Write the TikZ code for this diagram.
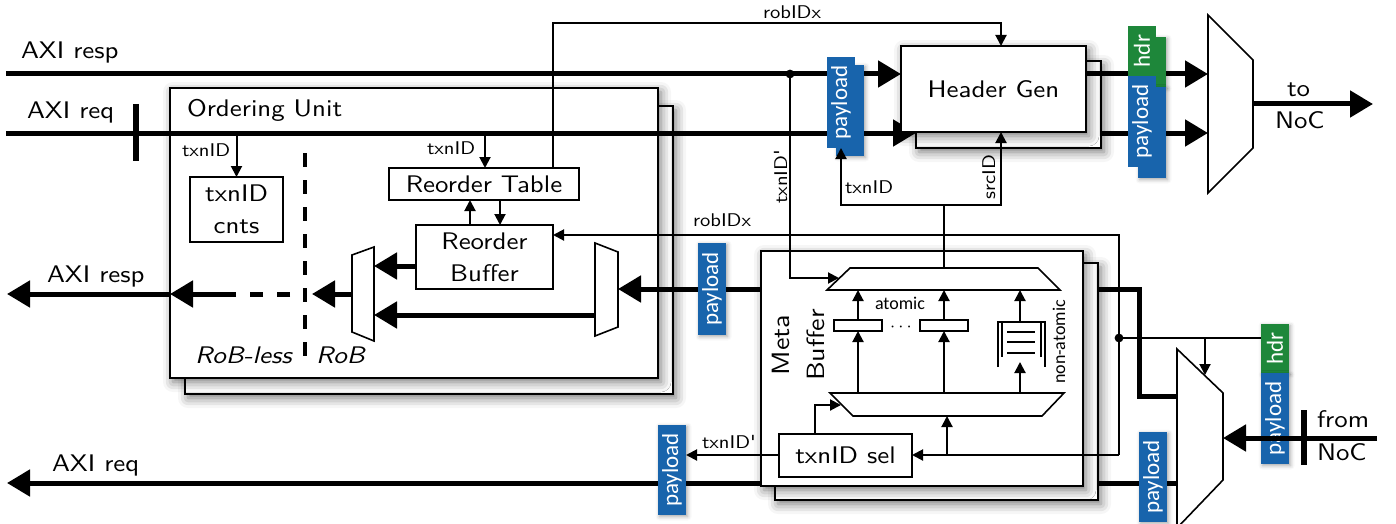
\documentclass[tikz,border=0pt]{standalone}
\usepackage{fontspec}
\setsansfont{lmsans10-regular.otf}[FakeStretch=1.12, ItalicFont=lmsans10-oblique.otf]
\newfontfamily\carl{Carlito}
\usetikzlibrary{arrows.meta,fit,shadows.blur}
\definecolor{pblue}{RGB}{24,100,172}
\definecolor{hgreen}{RGB}{30,135,58}
\tikzset{
  every node/.style={font=\sffamily\fontsize{12}{14}\selectfont, inner sep=0pt, outer sep=0pt},
  thk/.style={line width=2.5pt},
  thn/.style={line width=1pt},
  big/.style={-{Triangle[length=11.5pt,width=13pt]}},
  sml/.style={-{Triangle[length=5.5pt,width=5.5pt]}},
  blk/.style={draw, line width=1pt, fill=white},
  shd/.style={blur shadow={shadow xshift=1.5pt, shadow yshift=-2pt, shadow blur radius=5pt, shadow opacity=55}},
  lshd/.style={blur shadow={shadow xshift=0.8pt, shadow yshift=-0.8pt, shadow blur radius=2pt, shadow opacity=35}},
  sbox/.style={draw, line width=0.7pt, fill=white},
  two/.style={align=center, font=\sffamily\fontsize{12}{16}\selectfont},
  lbl/.style={font=\sffamily\fontsize{9.2}{10}\selectfont},
  pay/.style={fill=pblue, text=white, rotate=90, font=\carl\fontsize{11.5}{12}\selectfont, minimum height=14pt},
  hdrb/.style={fill=hgreen, text=white, rotate=90, font=\carl\fontsize{11.5}{12}\selectfont, minimum height=14pt},
  mux/.style={draw, line width=0.8pt, fill=white, line join=miter},
}
\begin{document}
\begin{tikzpicture}[x=0.5pt,y=-0.5pt]
\useasboundingbox (0,0) rectangle (1396,524);
% ================= Ordering Unit
\node[blk,shd,fit={(185,106)(673,394)}] (oub) {};
\node[blk,shd,fit={(170,88)(658,378)}] (ouf) {};
\node[anchor=base west] (oulbl) at (187,117) {Ordering Unit};
\node[sbox,fit={(190,177)(283,242)}] (cnt) {};
\node[two] (cntt) at (cnt.center) {txnID\\cnts};
\node[sbox,fit={(389,168)(579,200)}] (rt) {};
\node (rtt) at (rt.center) {Reorder Table};
\node[sbox,fit={(416,225)(553,289)}] (rb) {};
\node[two] (rbt) at (rb.center) {Reorder\\Buffer};
\coordinate (dvT) at (305,153);
\coordinate (dvB) at (305,357);
\draw[line width=2pt, dash pattern=on 7pt off 6.5pt] (dvT) -- (dvB);
\node[anchor=base west, font=\sffamily\itshape\fontsize{12}{14}\selectfont] (rbl) at (195,363) {RoB-less};
\node[anchor=base west, font=\sffamily\itshape\fontsize{12}{14}\selectfont] (rbr) at (316,363) {RoB};
% muxes
\draw[mux] (352,255) coordinate (lmA) -- (374,247) coordinate (lmB) -- (374,341) coordinate (lmC) -- (352,332) coordinate (lmD) -- cycle;
\draw[mux] (595,243) coordinate (rmA) -- (618,252) coordinate (rmB) -- (618,327) coordinate (rmC) -- (595,336) coordinate (rmD) -- cycle;
\coordinate (lmo) at (352,294);
\coordinate (dvx) at (312,294);
\draw[thk,big] (lmo) -- (dvx);
\coordinate (ds1) at (290,294);
\coordinate (ds2) at (236,294);
\draw[thk, dash pattern=on 6.5pt off 7pt] (ds1) -- (ds2);
\draw[thk,big] (ds2) -- (ds2 -| ouf.west);
\coordinate (rspOut) at (7,294);
\draw[thk,big] (ds2 -| ouf.west) -- (rspOut);
\coordinate (rbo) at (416,266);
\draw[thk,big] (rbo) -- (rbo -| lmB);
\coordinate (rmo) at (595,315);
\draw[thk,big] (rmo) -- (rmo -| lmB);
\coordinate (ua) at (470,0);
\coordinate (da) at (500,0);
\draw[thn,sml] (rb.north -| ua) -- (rt.south -| ua);
\draw[thn,sml] (rt.south -| da) -- (rb.north -| da);
% ================= top AXI lines
\path node[fit={(901,46)(1086,132)}] (hgf) {};
\node[blk,shd,fit={(916,61)(1101,148)}] (hgb) {};
\coordinate (respL) at (6,74);
\coordinate (reqL) at (6,133);
\draw[thk,big] (respL) -- (respL -| hgf.west);
\draw[thk,big] (reqL) -- (reqL -| hgb.west);
\coordinate (tk1) at (136,104);
\coordinate (tk2) at (136,161);
\draw[line width=3pt] (tk1) -- (tk2);
\node[anchor=base west] (l1) at (21,59) {AXI resp};
\node[anchor=base west] (l2) at (27,119) {AXI req};
\node[blk,shd,fit=(hgf)] (hg) {};
\node (hgt) at (hg.center) {Header Gen};
% outputs
\draw[mux] (1208,15) coordinate (omA) -- (1253,60) coordinate (omB) -- (1253,148) coordinate (omC) -- (1208,193) coordinate (omD) -- cycle;
\draw[thk,big] (respL -| hg.east) -- (respL -| omA);
\draw[thk,big] (reqL -| hgb.east) -- (reqL -| omA);
\coordinate (omo) at (1253,104);
\coordinate (toNoC) at (1373,104);
\draw[thk,big] (omo) -- (toNoC);
\node[anchor=base west] (l3) at (1287,97) {to};
\node[anchor=base west] (l4) at (1275,128) {NoC};
% ================= thick payload lines
\coordinate (dmo1) at (1177,396);
\coordinate (plc) at (1139,289);
\draw[thk,big] (dmo1) -| (plc) -- (plc -| rmB);
\coordinate (dmo2) at (1177,483);
\coordinate (reqOut) at (7,483);
\draw[thk,big] (dmo2) -- (reqOut);
\node[anchor=base west] (l5) at (47,282) {AXI resp};
\node[anchor=base west] (l6) at (52,471) {AXI req};
% ================= Meta Buffer
\node[blk,shd,fit={(775,263)(1098,500)}] (mbb) {};
\node[blk,shd,fit={(761,251)(1083,486)}] (mbf) {};
\node[rotate=90, align=center, font=\sffamily\fontsize{12.5}{17.5}\selectfont] (mbl) at (798,345) {Meta\\Buffer};
\draw[mux] (850,268) coordinate (tmA) -- (1038,268) coordinate (tmB) -- (1060,290) coordinate (tmC) -- (827,290) coordinate (tmD) -- cycle;
\draw[mux] (830,393) coordinate (bmA) -- (1064,393) coordinate (bmB) -- (1042,416) coordinate (bmC) -- (853,416) coordinate (bmD) -- cycle;
\node[sbox,fit={(834,320)(882,331)}] (r1) {};
\node[sbox,fit={(920,320)(968,331)}] (r2) {};
\draw[thn,sml] (r1.south |- bmA) -- (r1.south);
\draw[thn,sml] (r1.north) -- (r1.north |- tmD);
\draw[thn,sml] (r2.south |- bmA) -- (r2.south);
\draw[thn,sml] (r2.north) -- (r2.north |- tmD);
\coordinate (ffT) at (1020,322);
\coordinate (ffB) at (1020,362);
\draw[line width=0.8pt] (998,367) -- (998,322) -- (1045,322) -- (1045,367);
\draw[line width=0.7pt] (1002,322) -- (1002,357) (1041,322) -- (1041,357);
\draw[line width=0.8pt] (1007,332) -- (1035,332) (1007,342) -- (1035,342) (1007,353) -- (1035,353);
\draw[thn,sml] (ffB |- bmA) -- (ffB);
\draw[thn,sml] (ffT) -- (ffT |- tmD);
\node[anchor=base west, font=\carl\fontsize{9}{10}\selectfont] (atl) at (875,309) {atomic};
\node[font=\fontsize{9}{10}\selectfont] (dots) at (901,327) {$\cdots$};
\node[rotate=90, font=\carl\fontsize{9}{10}\selectfont] (nat) at (1059,342) {non-atomic};
\node[sbox,fit={(779,434)(912,477)}] (ts) {};
\node (tst) at (ts.center) {txnID sel};
\coordinate (tsA) at (815,405);
\coordinate (bmL) at (841,405);
\draw[thn,sml] (ts.north -| tsA) |- (bmL);
% ================= payload / hdr labels
\node[pay,lshd,minimum width=45.5pt] (p1b) at (850,110.5) {};
\node[pay,minimum width=45.5pt] (p1) at (841,102.5) {payload};
\node[hdrb,lshd,minimum width=25pt] (h2b) at (1152,62) {};
\node[pay,lshd,minimum width=45.5pt] (p2b) at (1152,132.5) {};
\node[hdrb,minimum width=25pt] (h2) at (1142,51) {hdr};
\node[pay,minimum width=45.5pt] (p2) at (1142,121.5) {payload};
\node[pay,lshd,minimum width=46pt] (p3) at (712,289) {payload};
\node[pay,lshd,minimum width=45pt] (p4) at (672,470) {payload};
\node[pay,lshd,minimum width=45pt] (p5) at (1153,477) {payload};
\node[hdrb,lshd,minimum width=24.5pt] (h6) at (1275,348.5) {hdr};
\node[pay,lshd,minimum width=45.5pt] (p6) at (1275,418.5) {payload};
% ================= thin signal lines
\coordinate (rxt) at (553,23);
\coordinate (sx) at (1001,0);
\draw[thn,sml] (rxt |- rt.north) -- (rxt) -| (sx |- hg.north);
\node[lbl, anchor=base west] (l7) at (763,19) {robIDx};
\coordinate (rtx) at (485,133);
\draw[thn,sml] (rtx) -- (rtx |- rt.north);
\node[lbl, anchor=base west] (l8) at (427,155) {txnID};
\draw[thn,sml] (cnt.north |- reqL) -- (cnt.north);
\node[lbl, anchor=base west] (l9) at (182,156) {txnID};
\coordinate (jd) at (790,74);
\coordinate (tmL) at (839,278);
\draw[thn,sml] (jd) |- (tmL);
\fill (jd) circle (2.2pt);
\node[lbl, rotate=90, anchor=base] (l10) at (787,177) {txnID\textquotesingle};
\coordinate (tmo) at (944,268);
\coordinate (jn) at (944,205);
\draw[thn] (tmo) -- (jn);
\draw[thn,sml] (jn) -| (p1.west);
\draw[thn,sml] (jn) -| (sx |- hg.south);
\node[lbl, anchor=base west] (l11) at (845,193) {txnID};
\node[lbl, rotate=90, anchor=base] (l12) at (995,177) {srcID};
\coordinate (rx1) at (1119,235);
\coordinate (rx2) at (1119,455);
\coordinate (hj) at (1119,338);
\draw[thn,sml] (rx2) -- (rx1) -- (rx1 -| rb.east);
\node[lbl, anchor=base west] (l13) at (693,226) {robIDx};
\draw[thn,sml] (rx2) -- (rx2 -| ts.east);
\coordinate (bmIn) at (947,455);
\draw[thn,sml] (bmIn) -- (bmIn |- bmC);
\draw[thn,sml] (ts.west |- rx2) -- (rx2 -| p4.south);
\node[lbl, anchor=base west] (l14) at (702,448) {txnID\textquotesingle};
\draw[thn] (hj) -- (hj -| h6.north);
\fill (hj) circle (2.2pt);
\coordinate (sel) at (1205,338);
\coordinate (selT) at (1205,375);
\draw[thn,sml] (sel) -- (selT);
% ================= demux and from NoC
\begin{scope}
\clip (0,0) rectangle (1396,524);
\draw[mux] (1177,349) coordinate (dmA) -- (1223,393) coordinate (dmB) -- (1223,480) coordinate (dmC) -- (1177,528) coordinate (dmD) -- cycle;
\end{scope}
\coordinate (fN) at (1377,438);
\draw[thk,big] (fN) -- (fN -| dmB);
\coordinate (tk3) at (1304,410);
\coordinate (tk4) at (1304,465);
\draw[line width=3pt] (tk3) -- (tk4);
\node[anchor=base west] (l15) at (1317,427) {from};
\node[anchor=base west] (l16) at (1317,460) {NoC};
\end{tikzpicture}
\end{document}
